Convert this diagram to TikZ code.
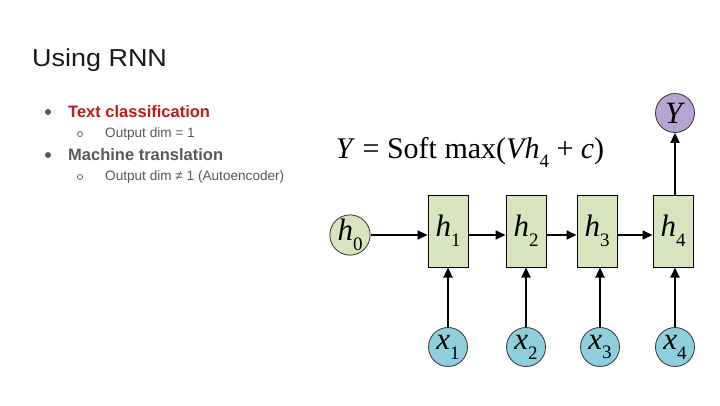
\documentclass[tikz,border=0pt]{standalone}
\usepackage{fontspec}
\setmainfont{Liberation Serif}
\setsansfont{Liberation Sans}
\usetikzlibrary{arrows.meta}
\definecolor{boxfill}{HTML}{D7E4BD}
\definecolor{xfill}{HTML}{8FCEDC}
\definecolor{yfill}{HTML}{B7A5CF}
\definecolor{hfill}{HTML}{D7E4BD}
\definecolor{redtxt}{HTML}{C0181D}
\definecolor{greytxt}{HTML}{595959}
\newcommand{\mysub}[2]{\textit{#1}\raisebox{-0.32em}{\fontsize{19}{19}\selectfont #2}}
\begin{document}
\begin{tikzpicture}[x=1pt,y=-1pt,
  cell/.style={draw=black,line width=1pt,fill=boxfill,minimum width=40pt,minimum height=72pt,inner sep=0pt,font=\fontsize{31}{31}\selectfont},
  ball/.style={circle,draw=black!80,line width=0.8pt,minimum size=39pt,inner sep=0pt,font=\fontsize{31}{31}\selectfont},
  link/.style={line width=1.8pt,-{Triangle[length=10pt,width=9pt]}},
  bigtxt/.style={font=\sffamily\bfseries\fontsize{16.5}{16.5}\selectfont,text=redtxt,anchor=west,inner sep=0pt},
  smalltxt/.style={font=\sffamily\fontsize{13.6}{13.6}\selectfont,text=greytxt,anchor=west,inner sep=0pt}
]
\useasboundingbox[fill=white] (0,0) rectangle (720,405);
% left text
\node[anchor=west,inner sep=0pt,font=\sffamily\fontsize{24.5}{24.5}\selectfont,text=black!90] (title) at (32,60) {\scalebox{1.1}[1]{Using RNN}};
\node[circle,fill=greytxt,inner sep=0pt,minimum size=6pt] (b1) at (48,112) {};
\node[bigtxt] (t1) at (68,112) {Text classification};
\node[circle,draw=greytxt,line width=0.7pt,inner sep=0pt,minimum size=5pt] (s1) at (80,134) {};
\node[smalltxt] (t2) at (105,134) {Output dim = 1};
\node[circle,fill=greytxt,inner sep=0pt,minimum size=6pt] (b2) at (48,155) {};
\node[bigtxt,text=greytxt] (t3) at (68,155) {Machine translation};
\node[circle,draw=greytxt,line width=0.7pt,inner sep=0pt,minimum size=5pt] (s2) at (80,177) {};
\node[smalltxt] (t4) at (105,177) {Output dim ≠ 1 (Autoencoder)};
% formula
\node[inner sep=0pt,font=\fontsize{30}{30}\selectfont] (eq) at (470,152) {\textit{Y} = Soft max(\textit{Vh}\raisebox{-0.3em}{\fontsize{19}{19}\selectfont 4} + \textit{c})};
% RNN
\node[ball,fill=hfill] (h0) at (350,235) {\mysub{h}{0}};
\node[cell] (h1) at (448,231) {\mysub{h}{1}};
\node[cell] (h2) at (526,231) {\mysub{h}{2}};
\node[cell] (h3) at (597,231) {\mysub{h}{3}};
\node[cell] (h4) at (673,231) {\mysub{h}{4}};
\node[ball,fill=yfill] (Y) at (675,113) {\textit{Y}};
\node[ball,fill=xfill] (x1) at (448,347) {\mysub{x}{1}};
\node[ball,fill=xfill] (x2) at (526,347) {\mysub{x}{2}};
\node[ball,fill=xfill] (x3) at (600,347) {\mysub{x}{3}};
\node[ball,fill=xfill] (x4) at (675,347) {\mysub{x}{4}};
\draw[link] (h0.east) -- (h1.west |- h0.east);
\draw[link] (h1.east |- h0.east) -- (h2.west |- h0.east);
\draw[link] (h2.east |- h0.east) -- (h3.west |- h0.east);
\draw[link] (h3.east |- h0.east) -- (h4.west |- h0.east);
\draw[link] (h4.north -| Y.south) -- (Y.south);
\draw[link] (x1.north) -- (x1.north |- h1.south);
\draw[link] (x2.north) -- (x2.north |- h2.south);
\draw[link] (x3.north) -- (x3.north |- h3.south);
\draw[link] (x4.north) -- (x4.north |- h4.south);
\end{tikzpicture}
\end{document}
